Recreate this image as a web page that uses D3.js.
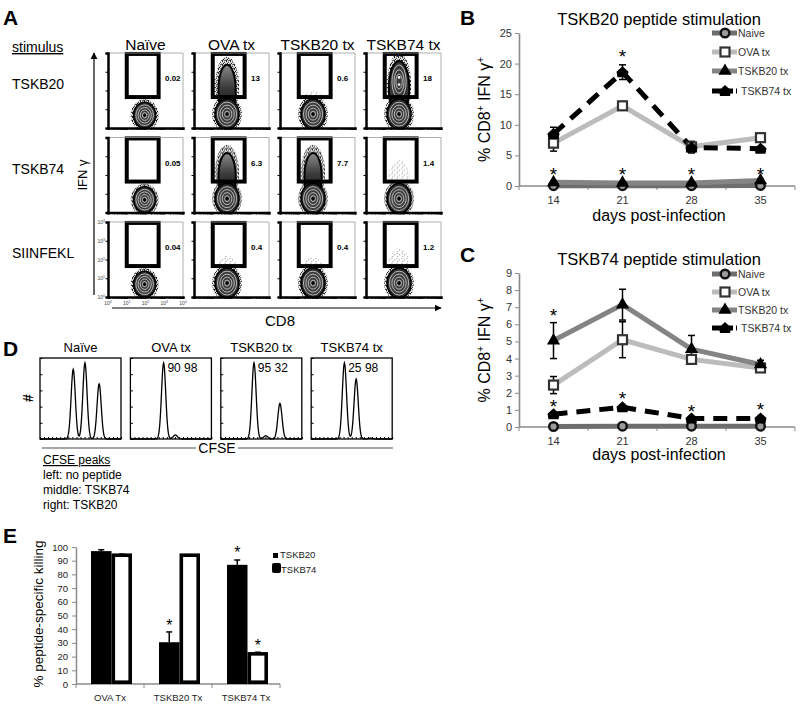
<!DOCTYPE html>
<html><head><meta charset="utf-8">
<script src="https://cdn.jsdelivr.net/npm/d3@7"></script>
<style>body{margin:0;background:#fff} svg{display:block;font-family:"Liberation Sans",Arial,sans-serif}</style>
</head><body><svg id="fig" width="800" height="709"></svg>
<script>
// ================= DATA =================
// Panel A (flow cytometry)
const flowCols = ["Naïve","OVA tx","TSKB20 tx","TSKB74 tx"];
const flowRows = ["TSKB20","TSKB74","SIINFEKL"];
const flowPct = [["0.02","13","0.6","18"],["0.05","6.3","7.7","1.4"],["0.04","0.4","0.4","1.2"]];
const flowBlobCD8 = [90, 58, 58, 58];          // CD8 of main population centre
const flowBlobIFN = [4.8, 5.5, 5.5, 5.5];      // IFNγ of main population centre
const flowTailTop = [[0, 3.7, 1.9, 3.9],[0, 3.5, 3.5, 2.7],[0, 2.1, 2.0, 2.5]]; // log10 IFNγ reached
const flowTickExp = ["0","1","2","3","4"];

// Panel D (CFSE histograms)
const cfseCols = ["Naïve","OVA tx","TSKB20 tx","TSKB74 tx"];
const cfseNums = ["","90 98","95 32","25 98"];
const cfsePeakPos = [41, 55.5, 73];
const cfsePeakH = [[0.86,0.94,0.68],[0.94,0.05,0.0],[0.94,0.04,0.44],[0.94,0.74,0.01]];
const cfseNotes = ["left: no peptide","middle: TSKB74","right: TSKB20"];

// Panels B & C
const days = [14,21,28,35];
const seriesNames = ["Naive","OVA tx","TSKB20 tx","TSKB74 tx"];
const bNaive = [0.05,0.05,0.05,0.1],  bNaiveErr = [0,0,0,0];
const bOVA   = [7.0,13.1,6.4,7.9],     bOVAErr   = [1.3,0.7,0.9,0.5];
const bT20   = [0.6,0.5,0.5,0.9],      bT20Err   = [0.2,0.2,0.2,0.3];
const bT74   = [8.5,18.6,6.3,6.1],     bT74Err   = [1.1,1.2,0.9,0.3];
const bStarDays = [21,14,21,28,35], bStarVals = [21.8,2.6,2.6,2.6,2.6];
const bTicks = [0,5,10,15,20,25];

const cNaive = [0.03,0.05,0.05,0.05], cNaiveErr = [0,0,0,0];
const cOVA   = [2.45,5.1,3.95,3.45],  cOVAErr   = [0.5,1.05,0.2,0.2];
const cT20   = [5.05,7.15,4.55,3.65], cT20Err   = [1.05,0.9,0.8,0.25];
const cT74   = [0.75,1.15,0.5,0.5],   cT74Err   = [0.1,0.1,0.1,0.1];
const cStarDays = [14,14,21,28,35], cStarVals = [6.75,1.42,1.9,1.13,1.28];
const cTicks = [0,1,2,3,4,5,6,7,8,9];

// Panel E
const eGroups = ["OVA Tx","TSKB20 Tx","TSKB74 Tx"];
const eSeries = ["TSKB20","TSKB74"];
const eTSKB20 = [97,30.5,87],   eTSKB20Err = [1,7.5,3.5];
const eTSKB74 = [94,94,22],     eTSKB74Err = [0.8,0.4,1.2];
const eStarGroups = ["TSKB20 Tx","TSKB74 Tx","TSKB74 Tx"], eStarSeries = ["TSKB20","TSKB20","TSKB74"], eStarVals = [45,98.5,30.5];
const eTicks = [0,10,20,30,40,50,60,70,80,90,100];

// ================= DRAW =================
const FONT = '"Liberation Sans",Arial,sans-serif';
const svg = d3.select("#fig");
const defs = svg.append("defs");
const p1 = defs.append("pattern").attr("id","dots").attr("width",4).attr("height",4).attr("patternUnits","userSpaceOnUse");
[[0.6,0.7],[2.6,1.2],[1.4,2.4],[3.4,3.2],[0.4,3.6],[2.2,3.9]].forEach(([a,b]) =>
  p1.append("circle").attr("cx",a).attr("cy",b).attr("r",0.6).attr("fill","#000"));
const p2 = defs.append("pattern").attr("id","dotsSparse").attr("width",5).attr("height",5).attr("patternUnits","userSpaceOnUse");
[[1,1.2],[3.6,2.8],[1.8,4.2]].forEach(([a,b]) =>
  p2.append("circle").attr("cx",a).attr("cy",b).attr("r",0.5).attr("fill","#222"));
const tg = defs.append("linearGradient").attr("id","tailGrad").attr("x1",0).attr("y1",1).attr("x2",0).attr("y2",0);
tg.append("stop").attr("offset","0%").attr("stop-color","#0a0a0a");
tg.append("stop").attr("offset","55%").attr("stop-color","#3a3a3a");
tg.append("stop").attr("offset","100%").attr("stop-color","#8a8a8a");
defs.append("marker").attr("id","arrow").attr("viewBox","0 0 10 10").attr("refX",9).attr("refY",5)
  .attr("markerWidth",6).attr("markerHeight",6).attr("orient","auto")
  .append("path").attr("d","M0,0L10,5L0,10Z").attr("fill","#000");

function txt(g, x, y, s, size, opts={}) {
  const t = g.append("text").attr("x",x).attr("y",y).attr("font-size",size).attr("font-family",FONT).text(s);
  if (opts.anchor) t.attr("text-anchor",opts.anchor);
  if (opts.weight) t.attr("font-weight",opts.weight);
  if (opts.fill) t.attr("fill",opts.fill);
  if (opts.deco) t.attr("text-decoration",opts.deco);
  return t;
}

// panel letters
[["A",3,25],["B",460,25],["C",460,262],["D",3,356],["E",3,543]].forEach(([l,x,y]) =>
  txt(svg,x,y,l,21,{weight:"bold"}));

// ---------- Panel A ----------
const FX0 = 108, FY0 = 53, FW = 75, FDX = 86, FDY = 84.5;
const fx = d3.scaleLog().domain([1,1e4]).range([0,FW]);
const fy = d3.scaleLog().domain([1,1e4]).range([FW,0]);
txt(svg,12,52,"stimulus",14,{deco:"underline"});
flowCols.forEach((cn,c) => txt(svg, FX0+c*FDX+FW/2, 50, cn, 15.5, {anchor:"middle"}));
flowRows.forEach((rn,r) => txt(svg, 12, FY0+r*FDY+36, rn, 14));
function rings(g, cx, cy, rx, ry, scales, fill) {
  scales.forEach(s => g.append("ellipse").attr("cx",cx).attr("cy",cy).attr("rx",rx*s).attr("ry",ry*s)
    .attr("fill",fill).attr("stroke","#f2f2f2").attr("stroke-width",0.7));
}
flowRows.forEach((rn, r) => {
  flowCols.forEach((cn, c) => {
    const g = svg.append("g").attr("transform", `translate(${FX0+c*FDX},${FY0+r*FDY})`);
    const cid = `clip${r}${c}`;
    defs.append("clipPath").attr("id",cid).append("rect").attr("width",FW).attr("height",FW);
    const inner = g.append("g").attr("clip-path",`url(#${cid})`);
    const bx = fx(flowBlobCD8[c]), by = fy(flowBlobIFN[c]);
    const rx = c===0 ? 11 : 12, ry = c===0 ? 13 : 15;
    const pct = +flowPct[r][c];
    const tt = flowTailTop[r][c];
    if (tt > 0) {
      const ty = fy(Math.pow(10,tt));
      const h = by - ty;
      inner.append("ellipse").attr("cx",bx).attr("cy",ty+h/2).attr("rx",rx*(pct>=2?1.0:0.9)).attr("ry",h/2+2)
        .attr("fill", pct>=2 ? "url(#dots)" : "url(#dotsSparse)").attr("opacity", pct>=2 ? 1 : 0.7);
      if (pct >= 5) {
        const cr = pct >= 15 ? 0.85 : 0.72;
        inner.append("ellipse").attr("cx",bx).attr("cy",ty+h/2+4).attr("rx",rx*cr).attr("ry",h/2-2)
          .attr("fill", pct >= 15 ? "#333" : "url(#tailGrad)").attr("stroke","#000").attr("stroke-width",2);
      }
      if (pct >= 15) {
        rings(inner, bx, ty+h*0.45, rx*0.7, h*0.33, [0.85,0.6,0.38], "#3a3a3a");
        inner.append("circle").attr("cx",bx).attr("cy",ty+h*0.38).attr("r",1.3).attr("fill","#fff");
        inner.append("circle").attr("cx",bx).attr("cy",ty+h*0.5).attr("r",1.3).attr("fill","#fff");
      }
    }
    inner.append("ellipse").attr("cx",bx).attr("cy",by).attr("rx",rx+3).attr("ry",ry+3).attr("fill","url(#dots)");
    inner.append("ellipse").attr("cx",bx).attr("cy",by).attr("rx",rx).attr("ry",ry).attr("fill","#2c2c2c").attr("stroke","#000").attr("stroke-width",1.5);
    rings(inner, bx, by, rx, ry, [0.8,0.6,0.4,0.2], "#3c3c3c");
    inner.append("circle").attr("cx",bx).attr("cy",by).attr("r",1.6).attr("fill","#000");
    // gate
    g.append("rect").attr("x",fx(10)).attr("y",fy(Math.pow(10,3.95)))
      .attr("width",fx(Math.pow(10,2.7))-fx(10)).attr("height",fy(Math.pow(10,1.65))-fy(Math.pow(10,3.95)))
      .attr("fill","none").attr("stroke","#000").attr("stroke-width",4);
    txt(g, 57, 28, flowPct[r][c], 8, {weight:"bold"});
    // frame
    g.append("path").attr("d",`M0,0H${FW}V${FW}`).attr("fill","none").attr("stroke","#999").attr("stroke-width",0.8);
    const ax = g.append("g").attr("transform",`translate(0,${FW})`).call(d3.axisBottom(fx).tickSize(2).tickFormat(""));
    ax.select(".domain").attr("stroke","#000").attr("stroke-width",2.5);
    const ay = g.append("g").call(d3.axisLeft(fy).ticks(4).tickSize(2.5).tickFormat(""));
    ay.select(".domain").attr("stroke","#000").attr("stroke-width",2.5);
    ay.selectAll(".tick line").filter(d => ![1,10,100,1000,10000].includes(d)).remove();
    if (r === flowRows.length-1 && c === 0) {
      flowTickExp.forEach(e => {
        const v = Math.pow(10,+e);
        const tl = txt(g, -3, fy(v)+2, "10", 5, {anchor:"end", fill:"#444"});
        tl.append("tspan").attr("dy",-2).attr("font-size",3.5).text(e);
        const tb = txt(g, fx(v), FW+8, "10", 5, {anchor:"middle", fill:"#444"});
        tb.append("tspan").attr("dy",-2).attr("font-size",3.5).text(e);
      });
    }
  });
});
svg.append("line").attr("x1",94).attr("x2",94).attr("y1",295).attr("y2",53).attr("stroke","#000").attr("stroke-width",1.2).attr("marker-end","url(#arrow)");
svg.append("line").attr("x1",112).attr("x2",441).attr("y1",308).attr("y2",308).attr("stroke","#000").attr("stroke-width",1.2).attr("marker-end","url(#arrow)");
txt(svg,0,0,"IFN γ",13,{anchor:"middle"}).attr("transform","translate(87,175) rotate(-90)");
txt(svg,280,326,"CD8",15,{anchor:"middle"});

// ---------- Panel D ----------
const DX0 = 40, DW = 81, DDX = 90.4, DY0 = 358, DH = 81;
const hx = d3.scaleLinear().domain([0,100]).range([0,DW]);
const hy = d3.scaleLinear().domain([0,1]).range([DH,0]);
const hgrid = d3.range(0,100.01,0.5);
cfseCols.forEach((cn,i) => {
  const g = svg.append("g").attr("transform",`translate(${DX0+i*DDX},${DY0})`);
  const pts = hgrid.map(x => [x, cfsePeakPos.reduce((s,p,k) => s + cfsePeakH[i][k]*Math.exp(-((x-p)*(x-p))/(2*2.6*2.6)), 0)]);
  g.append("path").datum(pts).attr("d", d3.line().x(d=>hx(d[0])).y(d=>hy(d[1])))
    .attr("fill","none").attr("stroke","#000").attr("stroke-width",1.3);
  g.append("rect").attr("width",DW).attr("height",DH).attr("fill","none").attr("stroke","#000").attr("stroke-width",1.3);
  const bx = g.append("g").attr("transform",`translate(0,${DH})`).call(d3.axisBottom(hx).ticks(20).tickSize(-2).tickFormat(""));
  bx.select(".domain").remove();
  const ly = g.append("g").call(d3.axisLeft(hy).ticks(5).tickSize(-2.5).tickFormat(""));
  ly.select(".domain").remove();
  txt(g, DW/2, -6, cn, 13, {anchor:"middle"});
  if (cfseNums[i]) txt(g, 37, 14, cfseNums[i], 12);
});
txt(svg,0,0,"#",14,{anchor:"middle",weight:"bold"}).attr("transform","translate(33,398) rotate(-90)");
svg.append("line").attr("x1",42).attr("x2",393).attr("y1",448).attr("y2",448).attr("stroke","#888").attr("stroke-width",1.5);
svg.append("rect").attr("x",196).attr("y",440).attr("width",42).attr("height",16).attr("fill","#fff");
txt(svg,217,453,"CFSE",14,{anchor:"middle"});
txt(svg,43,464,"CFSE peaks",12,{deco:"underline"});
cfseNotes.forEach((s,i) => txt(svg,43,479+i*15,s,12));

// ---------- Panels B & C ----------
const styles = {
  "Naive":     {color:"#6e6e6e", dash:null,   marker:"circle"},
  "OVA tx":    {color:"#bcbcbc", dash:null,   marker:"square"},
  "TSKB20 tx": {color:"#848484", dash:null,   marker:"triangle"},
  "TSKB74 tx": {color:"#000",    dash:"14,9", marker:"house"}
};
function drawMarker(g, type, x, y) {
  if (type === "circle") g.append("circle").attr("cx",x).attr("cy",y).attr("r",4.3).attr("fill","#9a9a9a").attr("stroke","#111").attr("stroke-width",2.4);
  else if (type === "square") g.append("rect").attr("x",x-4.5).attr("y",y-4.5).attr("width",9).attr("height",9).attr("fill","#fff").attr("stroke","#333").attr("stroke-width",2.2);
  else if (type === "triangle") g.append("path").attr("transform",`translate(${x},${y})`).attr("d",d3.symbol(d3.symbolTriangle,75)()).attr("fill","#000");
  else g.append("path").attr("transform",`translate(${x},${y})`).attr("d",d3.line()([[0,-6],[6,-0.5],[5,5],[-5,5],[-6,-0.5]]) + "Z").attr("fill","#000");
}
function lineChart(cfg) {
  const g = svg.append("g");
  const x = d3.scaleBand().domain(days).range([519,795]);
  const cx = d => x(d) + x.bandwidth()/2;
  const y = d3.scaleLinear().domain([0,cfg.yMax]).range([cfg.bottom, cfg.top]);
  const ya = g.append("g").attr("transform","translate(519,0)")
    .call(d3.axisLeft(y).tickValues(cfg.ticks).tickSize(4).tickPadding(3).tickSizeOuter(0));
  ya.select(".domain").attr("stroke","#8a8a8a").attr("stroke-width",1.6);
  ya.selectAll(".tick line").attr("stroke","#8a8a8a");
  ya.selectAll("text").attr("font-size",11).attr("fill","#333").attr("font-family",FONT);
  g.append("line").attr("x1",519).attr("x2",795).attr("y1",cfg.bottom).attr("y2",cfg.bottom).attr("stroke","#8a8a8a").attr("stroke-width",1.6);
  g.selectAll(".xt").data(days.map(d => x(d)).concat([x.range()[1]])).enter().append("line")
    .attr("x1",d=>d).attr("x2",d=>d).attr("y1",cfg.bottom).attr("y2",cfg.bottom+4).attr("stroke","#8a8a8a");
  days.forEach(d => txt(g, cx(d), cfg.bottom+18, String(d), 11, {anchor:"middle", fill:"#333"}));
  txt(g, 659, cfg.bottom+cfg.xlabOff, "days post-infection", 16, {anchor:"middle"});
  txt(g, 659, cfg.titleY, cfg.title, 16.5, {anchor:"middle"});
  const yl = txt(g, 0, 0, "% CD8", 16, {anchor:"middle"}).attr("transform",`translate(490,${(cfg.top+cfg.bottom)/2}) rotate(-90)`);
  yl.append("tspan").attr("font-size",10).attr("dy",-6).text("+");
  yl.append("tspan").attr("dy",6).text(" IFN γ");
  yl.append("tspan").attr("font-size",10).attr("dy",-6).text("+");
  const line = d3.line().x((v,i) => cx(days[i])).y(v => y(v));
  const order = cfg.order;
  order.forEach(k => {
    const s = cfg.series[k], st = styles[seriesNames[k]];
    const p = g.append("path").attr("d", line(s.v)).attr("fill","none").attr("stroke",st.color).attr("stroke-width",5);
    if (st.dash) p.attr("stroke-dasharray",st.dash);
  });
  order.forEach(k => {
    const s = cfg.series[k];
    s.v.forEach((v,i) => {
      if (!s.e[i]) return;
      const X = cx(days[i]);
      g.append("line").attr("x1",X).attr("x2",X).attr("y1",y(v-s.e[i])).attr("y2",y(v+s.e[i])).attr("stroke","#000").attr("stroke-width",1.5);
      [v-s.e[i], v+s.e[i]].forEach(w => g.append("line").attr("x1",X-3.5).attr("x2",X+3.5).attr("y1",y(w)).attr("y2",y(w)).attr("stroke","#000").attr("stroke-width",1.5));
    });
  });
  order.forEach(k => {
    const s = cfg.series[k], st = styles[seriesNames[k]];
    s.v.forEach((v,i) => drawMarker(g, st.marker, cx(days[i]), y(v)));
  });
  cfg.starDays.forEach((d,i) => txt(g, cx(d), y(cfg.starVals[i])+10.5, "*", 19, {anchor:"middle"}));
  seriesNames.forEach((n,i) => {
    const st = styles[n], Y = cfg.legY[i];
    const l = g.append("line").attr("x1",712).attr("x2",737).attr("y1",Y).attr("y2",Y).attr("stroke",st.color).attr("stroke-width",5);
    if (st.dash) l.attr("stroke-dasharray","9,3");
    drawMarker(g, st.marker, 725, Y);
    txt(g, n === "TSKB74 tx" ? 741 : 738, Y+4, n, 10.5, {fill:"#333"});
  });
}
lineChart({top:33, bottom:186, yMax:25, ticks:bTicks, title:"TSKB20 peptide stimulation", titleY:25, xlabOff:35,
  series:[{v:bNaive,e:bNaiveErr},{v:bOVA,e:bOVAErr},{v:bT20,e:bT20Err},{v:bT74,e:bT74Err}],
  order:[1,3,0,2], starDays:bStarDays, starVals:bStarVals, legY:[33,52,71,91]});
lineChart({top:273, bottom:427, yMax:9, ticks:cTicks, title:"TSKB74 peptide stimulation", titleY:265, xlabOff:33,
  series:[{v:cNaive,e:cNaiveErr},{v:cOVA,e:cOVAErr},{v:cT20,e:cT20Err},{v:cT74,e:cT74Err}],
  order:[1,2,0,3], starDays:cStarDays, starVals:cStarVals, legY:[274,292,310,328]});

// ---------- Panel E ----------
const eg = svg.append("g");
const ex = d3.scaleBand().domain(eGroups).range([76,280]);
const exIn = d3.scaleBand().domain(eSeries).range([15,56]);
const ey = d3.scaleLinear().domain([0,100]).range([684,547]);
const eya = eg.append("g").attr("transform","translate(76,0)").call(d3.axisLeft(ey).tickValues(eTicks).tickSize(4).tickPadding(4).tickSizeOuter(0));
eya.select(".domain").attr("stroke","#8a8a8a").attr("stroke-width",1.5);
eya.selectAll(".tick line").attr("stroke","#8a8a8a");
eya.selectAll("text").attr("font-size",9.5).attr("fill","#222").attr("font-family",FONT);
eg.append("line").attr("x1",76).attr("x2",280).attr("y1",684).attr("y2",684).attr("stroke","#8a8a8a").attr("stroke-width",1.5);
eg.selectAll(".ext").data(eGroups.map(d => ex(d)).concat([ex.range()[1]])).enter().append("line")
  .attr("x1",d=>d).attr("x2",d=>d).attr("y1",684).attr("y2",688).attr("stroke","#8a8a8a");
eGroups.forEach(gn => txt(eg, ex(gn)+ex.bandwidth()/2, 701, gn, 9.5, {anchor:"middle", fill:"#222"}));
const eVals = {TSKB20:[eTSKB20,eTSKB20Err], TSKB74:[eTSKB74,eTSKB74Err]};
eSeries.forEach(sn => {
  eGroups.forEach((gn,i) => {
    const v = eVals[sn][0][i], e = eVals[sn][1][i];
    const X = ex(gn) + exIn(sn), W = exIn.bandwidth(), Xc = X + W/2;
    eg.append("line").attr("x1",Xc).attr("x2",Xc).attr("y1",ey(v)).attr("y2",ey(v+e)).attr("stroke","#000").attr("stroke-width",1.5);
    eg.append("line").attr("x1",Xc-3).attr("x2",Xc+3).attr("y1",ey(v+e)).attr("y2",ey(v+e)).attr("stroke","#000").attr("stroke-width",1.5);
    if (sn === "TSKB20") eg.append("rect").attr("x",X).attr("y",ey(v)).attr("width",W).attr("height",684-ey(v)).attr("fill","#000");
    else eg.append("rect").attr("x",X+1.8).attr("y",ey(v)).attr("width",W-3.6).attr("height",684-ey(v)-1.8).attr("fill","#fff").attr("stroke","#000").attr("stroke-width",3.6);
  });
});
eStarGroups.forEach((gn,i) => txt(eg, ex(gn)+exIn(eStarSeries[i])+exIn.bandwidth()/2, ey(eStarVals[i])+9, "*", 16, {anchor:"middle"}));
txt(eg,0,0,"% peptide-specific killing",13.5,{anchor:"middle"}).attr("transform","translate(43,614) rotate(-90)");
eg.append("rect").attr("x",273).attr("y",553).attr("width",5).attr("height",5).attr("fill","#000");
txt(eg,280,558,"TSKB20",9.5,{fill:"#222"});
eg.append("rect").attr("x",272).attr("y",563).attr("width",9).attr("height",10).attr("rx",2).attr("fill","#000");
txt(eg,281,573,"TSKB74",9.5,{fill:"#222"});
</script></body></html>
